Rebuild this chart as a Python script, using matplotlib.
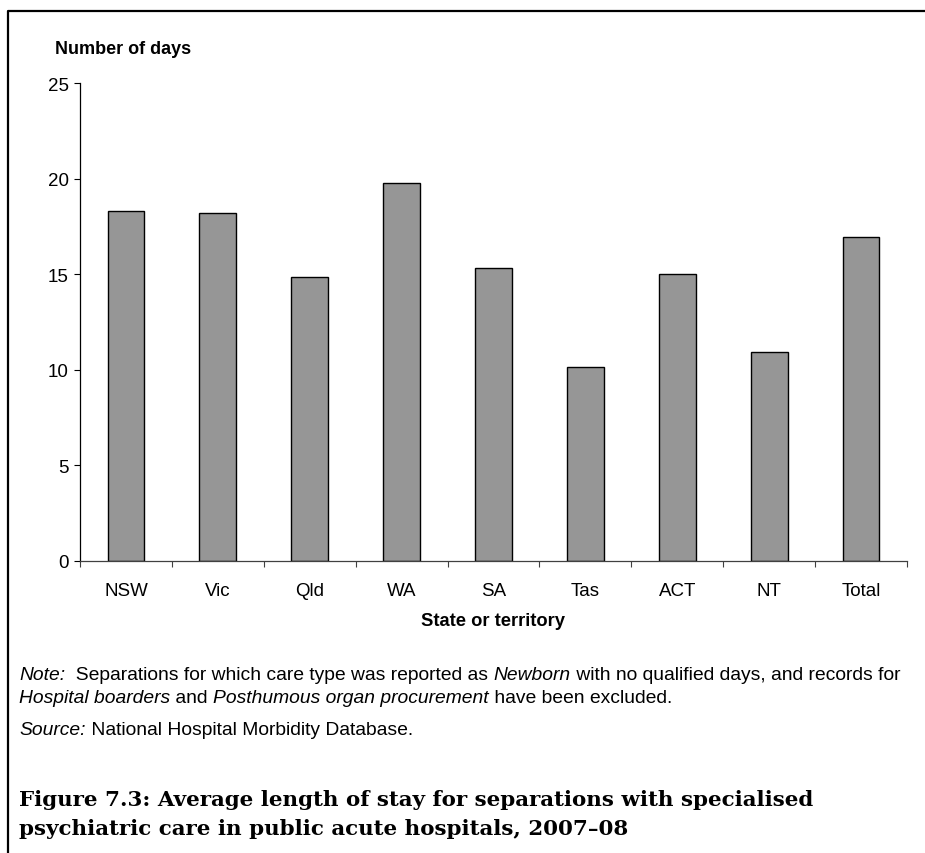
import matplotlib.pyplot as plt
from matplotlib.lines import Line2D

# data
states = ['NSW', 'Vic', 'Qld', 'WA', 'SA', 'Tas', 'ACT', 'NT', 'Total']
days = [18.3, 18.2, 14.85, 19.75, 15.35, 10.13, 15.0, 10.93, 16.93]
yticks = [0, 5, 10, 15, 20, 25]

plt.rcParams['font.family'] = ['Liberation Sans', 'DejaVu Sans']

W, H = 925, 854
fig = plt.figure(figsize=(W / 100, H / 100), dpi=100)

# axes box in pixel terms
ax = fig.add_axes([80 / W, (H - 562) / H, (907 - 80) / W, (562 - 84) / H])

x = list(range(len(states)))
ax.bar(x, days, width=0.4, color='#969696', edgecolor='black', linewidth=1.0)

ax.set_xlim(-0.5, len(states) - 0.5)
ax.set_ylim(0, 25)
ax.set_yticks(yticks)
ax.set_yticklabels([str(v) for v in yticks], fontsize=13.5)

# category labels between boundary ticks
ax.set_xticks([i - 0.5 for i in range(len(states) + 1)])
ax.set_xticklabels([])
ax.set_xticks(x, minor=True)
ax.set_xticklabels(states, minor=True, fontsize=13.5)
ax.tick_params(axis='x', which='minor', length=0, pad=15)
ax.tick_params(axis='x', which='major', direction='out', length=4, width=0.8, color='#404040')
ax.tick_params(axis='y', direction='out', length=4, width=0.8, pad=4)

for s in ['top', 'right']:
    ax.spines[s].set_visible(False)
ax.spines['left'].set_linewidth(0.9)
ax.spines['bottom'].set_linewidth(0.9)
ax.spines['bottom'].set_color('#404040')

fig.text(55 / W, 1 - 50 / H, 'Number of days', fontsize=13, fontweight='bold',
         ha='left', va='center')
fig.text(493 / W, 1 - 621 / H, 'State or territory', fontsize=13.2, fontweight='bold',
         ha='center', va='center')

# notes
nfs = 13.85


def run(parts, x0, y0):
    # draw a line of text made of (string, italic) parts, one after another
    xx = x0
    r = fig.canvas.get_renderer()
    for s, it in parts:
        tt = fig.text(xx, y0, s, fontsize=nfs, style='italic' if it else 'normal',
                      va='center', ha='left')
        bb = tt.get_window_extent(renderer=r)
        xx = xx + bb.width / W


run([('Note:', True), ('  Separations for which care type was reported as ', False),
     ('Newborn', True), (' with no qualified days, and records for', False)],
    19 / W, 1 - 676 / H)
run([('Hospital boarders', True), (' and ', False),
     ('Posthumous organ procurement', True), (' have been excluded.', False)],
    19 / W, 1 - 699 / H)
run([('Source:', True), (' National Hospital Morbidity Database.', False)],
    19 / W, 1 - 731 / H)

cap_font = ['DejaVu Serif']
fig.text(19 / W, 1 - 800 / H,
         'Figure 7.3: Average length of stay for separations with specialised',
         family=cap_font, fontsize=15.4, fontweight='bold', va='center')
fig.text(19 / W, 1 - 829 / H,
         'psychiatric care in public acute hospitals, 2007\u201308',
         family=cap_font, fontsize=15.4, fontweight='bold', va='center')

# frame around the figure: left and top only
fig.add_artist(Line2D([8 / W, 8 / W, 1], [0, 1 - 12 / H, 1 - 12 / H],
                      transform=fig.transFigure, color='black', linewidth=1.6))

fig.savefig('out.png', dpi=100)
